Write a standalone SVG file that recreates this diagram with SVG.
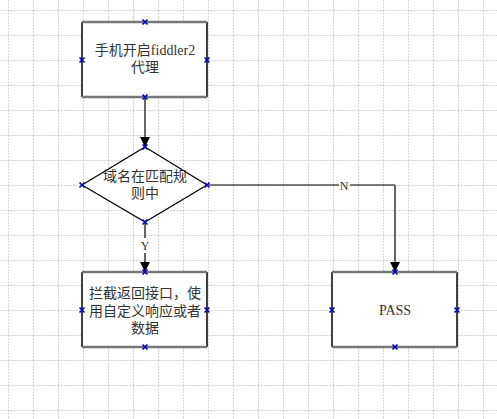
<svg xmlns="http://www.w3.org/2000/svg" width="497" height="419" viewBox="0 0 497 419">
<defs>
<pattern id="grid" x="8" y="10" width="25" height="25" patternUnits="userSpaceOnUse">
<path d="M0.5 0V25M0 0.5H25" fill="none" stroke="#d4d4d4" stroke-width="1" stroke-dasharray="2,1"/>
</pattern>
<marker id="arr" viewBox="0 0 10 10" refX="10" refY="5" markerWidth="10" markerHeight="10" markerUnits="userSpaceOnUse" orient="auto">
<path d="M0 0L10 5L0 10Z" fill="#000"/>
</marker>
<g id="x"><path d="M-2.5-2.5L2.5 2.5M-2.5 2.5L2.5-2.5" stroke="#0000c0" stroke-width="1.6"/></g>
</defs>
<style>
.t{font-family:"Liberation Serif","Noto Sans CJK SC",serif;font-size:14px;fill:#333;text-anchor:middle}
.lr{stroke:#000;stroke-width:1.5;fill:none}
.tb{stroke:#777;stroke-width:2.5;fill:none}
.c{fill:none;stroke:#000;stroke-width:1.2}
</style>
<rect width="497" height="419" fill="#fff"/>
<rect width="497" height="419" fill="url(#grid)"/>
<g id="connectors">
<path class="c" d="M145 98V147" stroke="#333" marker-end="url(#arr)"/>
<path class="c" d="M145 223V238M145 253V272" marker-end="url(#arr)"/>
<text class="t" x="145" y="250" style="font-size:12px">Y</text>
<path class="c" d="M208 185H339M350 185H395"/>
<path d="M395 185V272" fill="none" stroke="#666" stroke-width="2" marker-end="url(#arr)"/>
<text class="t" x="344" y="190" style="font-size:12px">N</text>
</g>
<g id="node1">
<rect x="82" y="22" width="125" height="75" fill="#fff"/>
<path class="lr" d="M82 22V97M207 22V97"/>
<path class="tb" d="M82 22H207M82 97H207"/>
<text class="t" x="145" y="55">手机开启fiddler2</text>
<text class="t" x="145" y="72">代理</text>
<use href="#x" x="145" y="22"/><use href="#x" x="145" y="97"/><use href="#x" x="82" y="60"/><use href="#x" x="207" y="60"/>
</g>
<g id="node2">
<path d="M145 147L207 185L145 222L82 185Z" fill="#fff" stroke="#000" stroke-width="1.2"/>
<text class="t" x="145" y="181">域名在匹配规</text>
<text class="t" x="145" y="198">则中</text>
<use href="#x" x="145" y="147"/><use href="#x" x="145" y="222"/><use href="#x" x="82" y="185"/><use href="#x" x="207" y="185"/>
</g>
<g id="node3">
<rect x="82" y="272" width="125" height="75" fill="#fff"/>
<path class="lr" d="M82 272V347M207 272V347"/>
<path class="tb" d="M82 272H207M82 347H207"/>
<text class="t" x="145" y="298">拦截返回接口，使</text>
<text class="t" x="145" y="316">用自定义响应或者</text>
<text class="t" x="145" y="333">数据</text>
<use href="#x" x="145" y="272"/><use href="#x" x="145" y="347"/><use href="#x" x="82" y="310"/><use href="#x" x="207" y="310"/>
</g>
<g id="node4">
<rect x="332" y="272" width="125" height="75" fill="#fff"/>
<path class="lr" d="M332 272V347M457 272V347"/>
<path class="tb" d="M332 272H457M332 347H457"/>
<text class="t" x="395" y="315">PASS</text>
<use href="#x" x="395" y="272"/><use href="#x" x="395" y="347"/><use href="#x" x="332" y="310"/><use href="#x" x="457" y="310"/>
</g>
</svg>
